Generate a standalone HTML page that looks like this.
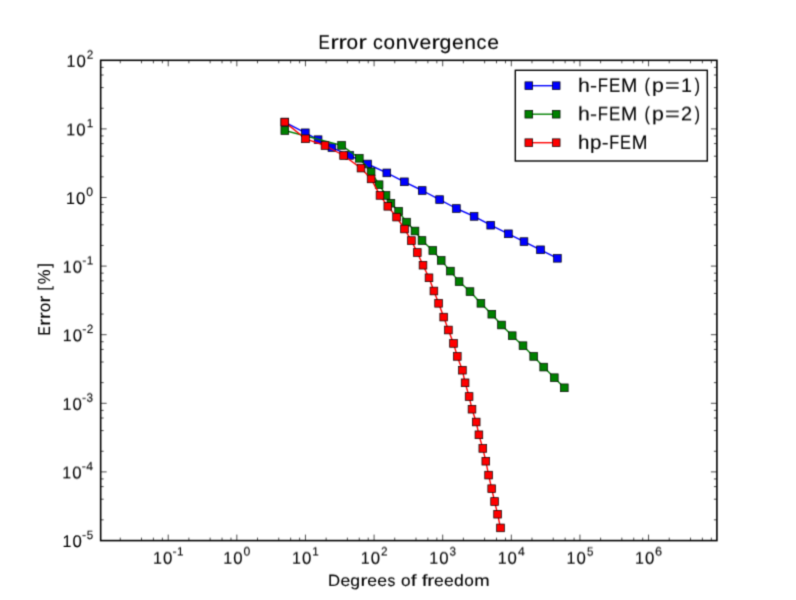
<!DOCTYPE html><html><head><meta charset="utf-8"><title>Error convergence</title><style>html,body{margin:0;padding:0;background:#fff;overflow:hidden;}svg{display:block;}text{font-family:"Liberation Sans",sans-serif;fill:#000;text-rendering:geometricPrecision;stroke:#000;stroke-width:0.12;}</style></head><body>
<svg width="796" height="600" viewBox="0 0 796 600">
<defs><filter id="bl" x="0" y="0" width="796" height="600" filterUnits="userSpaceOnUse" color-interpolation-filters="sRGB"><feConvolveMatrix order="3" kernelMatrix="1 4 1 4 16 4 1 4 1" edgeMode="duplicate"/></filter></defs>
<g filter="url(#bl)">
<rect x="0" y="0" width="796" height="600" fill="#fff"/>
<path d="M120.26 540.60V537.60M120.26 60.30V63.30M141.51 540.60V537.60M141.51 60.30V63.30M153.40 540.60V537.60M153.40 60.30V63.30M162.37 540.60V537.60M162.37 60.30V63.30M168.22 540.60V534.60M168.22 60.30V66.30M188.88 540.60V537.60M188.88 60.30V63.30M210.13 540.60V537.60M210.13 60.30V63.30M222.02 540.60V537.60M222.02 60.30V63.30M230.99 540.60V537.60M230.99 60.30V63.30M236.84 540.60V534.60M236.84 60.30V66.30M257.50 540.60V537.60M257.50 60.30V63.30M278.75 540.60V537.60M278.75 60.30V63.30M290.64 540.60V537.60M290.64 60.30V63.30M299.61 540.60V537.60M299.61 60.30V63.30M305.46 540.60V534.60M305.46 60.30V66.30M326.12 540.60V537.60M326.12 60.30V63.30M347.37 540.60V537.60M347.37 60.30V63.30M359.26 540.60V537.60M359.26 60.30V63.30M368.23 540.60V537.60M368.23 60.30V63.30M374.08 540.60V534.60M374.08 60.30V66.30M394.74 540.60V537.60M394.74 60.30V63.30M415.99 540.60V537.60M415.99 60.30V63.30M427.88 540.60V537.60M427.88 60.30V63.30M436.85 540.60V537.60M436.85 60.30V63.30M442.70 540.60V534.60M442.70 60.30V66.30M463.36 540.60V537.60M463.36 60.30V63.30M484.61 540.60V537.60M484.61 60.30V63.30M496.50 540.60V537.60M496.50 60.30V63.30M505.47 540.60V537.60M505.47 60.30V63.30M511.32 540.60V534.60M511.32 60.30V66.30M531.98 540.60V537.60M531.98 60.30V63.30M553.23 540.60V537.60M553.23 60.30V63.30M565.12 540.60V537.60M565.12 60.30V63.30M574.09 540.60V537.60M574.09 60.30V63.30M579.94 540.60V534.60M579.94 60.30V66.30M600.60 540.60V537.60M600.60 60.30V63.30M621.85 540.60V537.60M621.85 60.30V63.30M633.74 540.60V537.60M633.74 60.30V63.30M642.71 540.60V537.60M642.71 60.30V63.30M648.56 540.60V534.60M648.56 60.30V66.30M669.22 540.60V537.60M669.22 60.30V63.30M690.47 540.60V537.60M690.47 60.30V63.30M702.36 540.60V537.60M702.36 60.30V63.30M711.33 540.60V537.60M711.33 60.30V63.30M100.66 519.85H103.66M716.90 519.85H713.90M100.66 499.20H103.66M716.90 499.20H713.90M100.66 486.62H103.66M716.90 486.62H713.90M100.66 478.95H103.66M716.90 478.95H713.90M100.66 471.90H106.66M716.90 471.90H710.90M100.66 451.25H103.66M716.90 451.25H713.90M100.66 430.60H103.66M716.90 430.60H713.90M100.66 418.02H103.66M716.90 418.02H713.90M100.66 410.35H103.66M716.90 410.35H713.90M100.66 403.30H106.66M716.90 403.30H710.90M100.66 382.65H103.66M716.90 382.65H713.90M100.66 362.00H103.66M716.90 362.00H713.90M100.66 349.42H103.66M716.90 349.42H713.90M100.66 341.75H103.66M716.90 341.75H713.90M100.66 334.70H106.66M716.90 334.70H710.90M100.66 314.05H103.66M716.90 314.05H713.90M100.66 293.40H103.66M716.90 293.40H713.90M100.66 280.82H103.66M716.90 280.82H713.90M100.66 273.15H103.66M716.90 273.15H713.90M100.66 266.10H106.66M716.90 266.10H710.90M100.66 245.45H103.66M716.90 245.45H713.90M100.66 224.80H103.66M716.90 224.80H713.90M100.66 212.22H103.66M716.90 212.22H713.90M100.66 204.55H103.66M716.90 204.55H713.90M100.66 197.50H106.66M716.90 197.50H710.90M100.66 176.85H103.66M716.90 176.85H713.90M100.66 156.20H103.66M716.90 156.20H713.90M100.66 143.62H103.66M716.90 143.62H713.90M100.66 135.95H103.66M716.90 135.95H713.90M100.66 128.90H106.66M716.90 128.90H710.90M100.66 108.25H103.66M716.90 108.25H713.90M100.66 87.60H103.66M716.90 87.60H713.90M100.66 75.02H103.66M716.90 75.02H713.90M100.66 67.35H103.66M716.90 67.35H713.90" stroke="#000" stroke-width="0.7" fill="none"/>
<path d="M284.80 122.10L305.30 132.80L318.10 139.70L331.90 147.60L349.60 155.40L367.50 164.00L386.80 172.90L404.40 181.80L422.20 190.50L439.60 199.60L456.40 208.50L474.10 216.40L490.70 225.20L508.40 233.80L524.00 241.60L540.50 249.80L557.40 258.30" stroke="#0000ff" stroke-width="1.4" fill="none" stroke-linejoin="round" stroke-linecap="butt"/>
<rect x="280.95" y="118.25" width="7.7" height="7.7" fill="#0000ff" stroke="#000" stroke-width="0.7"/>
<rect x="301.45" y="128.95" width="7.7" height="7.7" fill="#0000ff" stroke="#000" stroke-width="0.7"/>
<rect x="314.25" y="135.85" width="7.7" height="7.7" fill="#0000ff" stroke="#000" stroke-width="0.7"/>
<rect x="328.05" y="143.75" width="7.7" height="7.7" fill="#0000ff" stroke="#000" stroke-width="0.7"/>
<rect x="345.75" y="151.55" width="7.7" height="7.7" fill="#0000ff" stroke="#000" stroke-width="0.7"/>
<rect x="363.65" y="160.15" width="7.7" height="7.7" fill="#0000ff" stroke="#000" stroke-width="0.7"/>
<rect x="382.95" y="169.05" width="7.7" height="7.7" fill="#0000ff" stroke="#000" stroke-width="0.7"/>
<rect x="400.55" y="177.95" width="7.7" height="7.7" fill="#0000ff" stroke="#000" stroke-width="0.7"/>
<rect x="418.35" y="186.65" width="7.7" height="7.7" fill="#0000ff" stroke="#000" stroke-width="0.7"/>
<rect x="435.75" y="195.75" width="7.7" height="7.7" fill="#0000ff" stroke="#000" stroke-width="0.7"/>
<rect x="452.55" y="204.65" width="7.7" height="7.7" fill="#0000ff" stroke="#000" stroke-width="0.7"/>
<rect x="470.25" y="212.55" width="7.7" height="7.7" fill="#0000ff" stroke="#000" stroke-width="0.7"/>
<rect x="486.85" y="221.35" width="7.7" height="7.7" fill="#0000ff" stroke="#000" stroke-width="0.7"/>
<rect x="504.55" y="229.95" width="7.7" height="7.7" fill="#0000ff" stroke="#000" stroke-width="0.7"/>
<rect x="520.15" y="237.75" width="7.7" height="7.7" fill="#0000ff" stroke="#000" stroke-width="0.7"/>
<rect x="536.65" y="245.95" width="7.7" height="7.7" fill="#0000ff" stroke="#000" stroke-width="0.7"/>
<rect x="553.55" y="254.45" width="7.7" height="7.7" fill="#0000ff" stroke="#000" stroke-width="0.7"/>
<path d="M284.80 130.50L341.60 145.40L359.30 158.30L371.10 171.80L379.10 184.70L386.00 195.40L390.90 203.20L398.60 211.30L406.50 222.10L415.00 231.00L422.00 240.50L432.80 250.50L441.20 260.40L450.40 271.10L459.10 281.60L470.00 291.60L480.90 303.30L491.80 314.20L501.50 325.00L512.20 335.70L523.00 345.70L533.70 356.40L543.70 367.10L554.30 377.70L564.30 387.80" stroke="#008000" stroke-width="1.4" fill="none" stroke-linejoin="round" stroke-linecap="butt"/>
<rect x="280.95" y="126.65" width="7.7" height="7.7" fill="#008000" stroke="#000" stroke-width="0.7"/>
<rect x="337.75" y="141.55" width="7.7" height="7.7" fill="#008000" stroke="#000" stroke-width="0.7"/>
<rect x="355.45" y="154.45" width="7.7" height="7.7" fill="#008000" stroke="#000" stroke-width="0.7"/>
<rect x="367.25" y="167.95" width="7.7" height="7.7" fill="#008000" stroke="#000" stroke-width="0.7"/>
<rect x="375.25" y="180.85" width="7.7" height="7.7" fill="#008000" stroke="#000" stroke-width="0.7"/>
<rect x="382.15" y="191.55" width="7.7" height="7.7" fill="#008000" stroke="#000" stroke-width="0.7"/>
<rect x="387.05" y="199.35" width="7.7" height="7.7" fill="#008000" stroke="#000" stroke-width="0.7"/>
<rect x="394.75" y="207.45" width="7.7" height="7.7" fill="#008000" stroke="#000" stroke-width="0.7"/>
<rect x="402.65" y="218.25" width="7.7" height="7.7" fill="#008000" stroke="#000" stroke-width="0.7"/>
<rect x="411.15" y="227.15" width="7.7" height="7.7" fill="#008000" stroke="#000" stroke-width="0.7"/>
<rect x="418.15" y="236.65" width="7.7" height="7.7" fill="#008000" stroke="#000" stroke-width="0.7"/>
<rect x="428.95" y="246.65" width="7.7" height="7.7" fill="#008000" stroke="#000" stroke-width="0.7"/>
<rect x="437.35" y="256.55" width="7.7" height="7.7" fill="#008000" stroke="#000" stroke-width="0.7"/>
<rect x="446.55" y="267.25" width="7.7" height="7.7" fill="#008000" stroke="#000" stroke-width="0.7"/>
<rect x="455.25" y="277.75" width="7.7" height="7.7" fill="#008000" stroke="#000" stroke-width="0.7"/>
<rect x="466.15" y="287.75" width="7.7" height="7.7" fill="#008000" stroke="#000" stroke-width="0.7"/>
<rect x="477.05" y="299.45" width="7.7" height="7.7" fill="#008000" stroke="#000" stroke-width="0.7"/>
<rect x="487.95" y="310.35" width="7.7" height="7.7" fill="#008000" stroke="#000" stroke-width="0.7"/>
<rect x="497.65" y="321.15" width="7.7" height="7.7" fill="#008000" stroke="#000" stroke-width="0.7"/>
<rect x="508.35" y="331.85" width="7.7" height="7.7" fill="#008000" stroke="#000" stroke-width="0.7"/>
<rect x="519.15" y="341.85" width="7.7" height="7.7" fill="#008000" stroke="#000" stroke-width="0.7"/>
<rect x="529.85" y="352.55" width="7.7" height="7.7" fill="#008000" stroke="#000" stroke-width="0.7"/>
<rect x="539.85" y="363.25" width="7.7" height="7.7" fill="#008000" stroke="#000" stroke-width="0.7"/>
<rect x="550.45" y="373.85" width="7.7" height="7.7" fill="#008000" stroke="#000" stroke-width="0.7"/>
<rect x="560.45" y="383.95" width="7.7" height="7.7" fill="#008000" stroke="#000" stroke-width="0.7"/>
<path d="M284.80 122.10L305.50 138.80L325.00 145.50L343.60 155.50L361.00 168.10L371.10 178.90L380.00 195.40L387.80 206.30L396.60 217.10L404.50 229.00L411.40 240.60L417.30 252.50L423.00 265.20L429.00 277.80L433.90 291.00L438.60 303.30L443.70 317.10L448.40 330.00L453.50 343.40L457.30 356.40L462.40 370.20L465.10 382.80L469.10 396.50L472.00 409.20L476.20 422.00L478.90 434.80L482.80 448.40L485.80 461.20L488.60 475.10L491.70 488.70L494.60 501.50L497.60 514.20L500.50 527.90" stroke="#ff0000" stroke-width="1.4" fill="none" stroke-linejoin="round" stroke-linecap="butt"/>
<rect x="280.95" y="118.25" width="7.7" height="7.7" fill="#ff0000" stroke="#000" stroke-width="0.7"/>
<rect x="301.65" y="134.95" width="7.7" height="7.7" fill="#ff0000" stroke="#000" stroke-width="0.7"/>
<rect x="321.15" y="141.65" width="7.7" height="7.7" fill="#ff0000" stroke="#000" stroke-width="0.7"/>
<rect x="339.75" y="151.65" width="7.7" height="7.7" fill="#ff0000" stroke="#000" stroke-width="0.7"/>
<rect x="357.15" y="164.25" width="7.7" height="7.7" fill="#ff0000" stroke="#000" stroke-width="0.7"/>
<rect x="367.25" y="175.05" width="7.7" height="7.7" fill="#ff0000" stroke="#000" stroke-width="0.7"/>
<rect x="376.15" y="191.55" width="7.7" height="7.7" fill="#ff0000" stroke="#000" stroke-width="0.7"/>
<rect x="383.95" y="202.45" width="7.7" height="7.7" fill="#ff0000" stroke="#000" stroke-width="0.7"/>
<rect x="392.75" y="213.25" width="7.7" height="7.7" fill="#ff0000" stroke="#000" stroke-width="0.7"/>
<rect x="400.65" y="225.15" width="7.7" height="7.7" fill="#ff0000" stroke="#000" stroke-width="0.7"/>
<rect x="407.55" y="236.75" width="7.7" height="7.7" fill="#ff0000" stroke="#000" stroke-width="0.7"/>
<rect x="413.45" y="248.65" width="7.7" height="7.7" fill="#ff0000" stroke="#000" stroke-width="0.7"/>
<rect x="419.15" y="261.35" width="7.7" height="7.7" fill="#ff0000" stroke="#000" stroke-width="0.7"/>
<rect x="425.15" y="273.95" width="7.7" height="7.7" fill="#ff0000" stroke="#000" stroke-width="0.7"/>
<rect x="430.05" y="287.15" width="7.7" height="7.7" fill="#ff0000" stroke="#000" stroke-width="0.7"/>
<rect x="434.75" y="299.45" width="7.7" height="7.7" fill="#ff0000" stroke="#000" stroke-width="0.7"/>
<rect x="439.85" y="313.25" width="7.7" height="7.7" fill="#ff0000" stroke="#000" stroke-width="0.7"/>
<rect x="444.55" y="326.15" width="7.7" height="7.7" fill="#ff0000" stroke="#000" stroke-width="0.7"/>
<rect x="449.65" y="339.55" width="7.7" height="7.7" fill="#ff0000" stroke="#000" stroke-width="0.7"/>
<rect x="453.45" y="352.55" width="7.7" height="7.7" fill="#ff0000" stroke="#000" stroke-width="0.7"/>
<rect x="458.55" y="366.35" width="7.7" height="7.7" fill="#ff0000" stroke="#000" stroke-width="0.7"/>
<rect x="461.25" y="378.95" width="7.7" height="7.7" fill="#ff0000" stroke="#000" stroke-width="0.7"/>
<rect x="465.25" y="392.65" width="7.7" height="7.7" fill="#ff0000" stroke="#000" stroke-width="0.7"/>
<rect x="468.15" y="405.35" width="7.7" height="7.7" fill="#ff0000" stroke="#000" stroke-width="0.7"/>
<rect x="472.35" y="418.15" width="7.7" height="7.7" fill="#ff0000" stroke="#000" stroke-width="0.7"/>
<rect x="475.05" y="430.95" width="7.7" height="7.7" fill="#ff0000" stroke="#000" stroke-width="0.7"/>
<rect x="478.95" y="444.55" width="7.7" height="7.7" fill="#ff0000" stroke="#000" stroke-width="0.7"/>
<rect x="481.95" y="457.35" width="7.7" height="7.7" fill="#ff0000" stroke="#000" stroke-width="0.7"/>
<rect x="484.75" y="471.25" width="7.7" height="7.7" fill="#ff0000" stroke="#000" stroke-width="0.7"/>
<rect x="487.85" y="484.85" width="7.7" height="7.7" fill="#ff0000" stroke="#000" stroke-width="0.7"/>
<rect x="490.75" y="497.65" width="7.7" height="7.7" fill="#ff0000" stroke="#000" stroke-width="0.7"/>
<rect x="493.75" y="510.35" width="7.7" height="7.7" fill="#ff0000" stroke="#000" stroke-width="0.7"/>
<rect x="496.65" y="524.05" width="7.7" height="7.7" fill="#ff0000" stroke="#000" stroke-width="0.7"/>
<rect x="100.66" y="60.3" width="616.24" height="480.30" fill="none" stroke="#000" stroke-width="1.6"/>
<rect x="515.3" y="70.3" width="192.00" height="90.70" fill="#fff" stroke="#000" stroke-width="1.4"/>
<path d="M528.8 85.70H556.2" stroke="#0000ff" stroke-width="1.4"/>
<rect x="524.95" y="81.85" width="7.7" height="7.7" fill="#0000ff" stroke="#000" stroke-width="0.7"/>
<rect x="552.35" y="81.85" width="7.7" height="7.7" fill="#0000ff" stroke="#000" stroke-width="0.7"/>
<path d="M528.8 114.20H556.2" stroke="#008000" stroke-width="1.4"/>
<rect x="524.95" y="110.35" width="7.7" height="7.7" fill="#008000" stroke="#000" stroke-width="0.7"/>
<rect x="552.35" y="110.35" width="7.7" height="7.7" fill="#008000" stroke="#000" stroke-width="0.7"/>
<path d="M528.8 142.70H556.2" stroke="#ff0000" stroke-width="1.4"/>
<rect x="524.95" y="138.85" width="7.7" height="7.7" fill="#ff0000" stroke="#000" stroke-width="0.7"/>
<rect x="552.35" y="138.85" width="7.7" height="7.7" fill="#ff0000" stroke="#000" stroke-width="0.7"/>






</g>
<defs><filter id="t1" x="0" y="0" width="796" height="600" filterUnits="userSpaceOnUse" color-interpolation-filters="sRGB"><feConvolveMatrix order="3 4" kernelMatrix="0.5000 2.0000 0.5000 2.5000 10.0000 2.5000 2.5000 10.0000 2.5000 0.5000 2.0000 0.5000" targetY="1" edgeMode="none"/></filter><filter id="t2" x="0" y="0" width="796" height="600" filterUnits="userSpaceOnUse" color-interpolation-filters="sRGB"><feConvolveMatrix order="3 4" kernelMatrix="0.4000 1.6000 0.4000 2.2000 8.8000 2.2000 2.8000 11.2000 2.8000 0.6000 2.4000 0.6000" targetY="1" edgeMode="none"/></filter><filter id="t3" x="0" y="0" width="796" height="600" filterUnits="userSpaceOnUse" color-interpolation-filters="sRGB"><feConvolveMatrix order="3 4" kernelMatrix="0.3000 1.2000 0.3000 1.9000 7.6000 1.9000 3.1000 12.4000 3.1000 0.7000 2.8000 0.7000" targetY="1" edgeMode="none"/></filter><filter id="t4" x="0" y="0" width="796" height="600" filterUnits="userSpaceOnUse" color-interpolation-filters="sRGB"><feConvolveMatrix order="3 4" kernelMatrix="0.2000 0.8000 0.2000 1.6000 6.4000 1.6000 3.4000 13.6000 3.4000 0.8000 3.2000 0.8000" targetY="1" edgeMode="none"/></filter><filter id="t5" x="0" y="0" width="796" height="600" filterUnits="userSpaceOnUse" color-interpolation-filters="sRGB"><feConvolveMatrix order="3 4" kernelMatrix="0.1000 0.4000 0.1000 1.3000 5.2000 1.3000 3.7000 14.8000 3.7000 0.9000 3.6000 0.9000" targetY="1" edgeMode="none"/></filter><filter id="t6" x="0" y="0" width="796" height="600" filterUnits="userSpaceOnUse" color-interpolation-filters="sRGB"><feConvolveMatrix order="3 4" kernelMatrix="1.0000 4.0000 1.0000 4.0000 16.0000 4.0000 1.0000 4.0000 1.0000 0.0000 0.0000 0.0000" targetY="2" edgeMode="none"/></filter><filter id="t7" x="0" y="0" width="796" height="600" filterUnits="userSpaceOnUse" color-interpolation-filters="sRGB"><feConvolveMatrix order="3 4" kernelMatrix="0.9000 3.6000 0.9000 3.7000 14.8000 3.7000 1.3000 5.2000 1.3000 0.1000 0.4000 0.1000" targetY="2" edgeMode="none"/></filter><filter id="t8" x="0" y="0" width="796" height="600" filterUnits="userSpaceOnUse" color-interpolation-filters="sRGB"><feConvolveMatrix order="3 4" kernelMatrix="0.8000 3.2000 0.8000 3.4000 13.6000 3.4000 1.6000 6.4000 1.6000 0.2000 0.8000 0.2000" targetY="2" edgeMode="none"/></filter><filter id="t9" x="0" y="0" width="796" height="600" filterUnits="userSpaceOnUse" color-interpolation-filters="sRGB"><feConvolveMatrix order="3 4" kernelMatrix="0.7000 2.8000 0.7000 3.1000 12.4000 3.1000 1.9000 7.6000 1.9000 0.3000 1.2000 0.3000" targetY="2" edgeMode="none"/></filter><filter id="t10" x="0" y="0" width="796" height="600" filterUnits="userSpaceOnUse" color-interpolation-filters="sRGB"><feConvolveMatrix order="3 4" kernelMatrix="0.6000 2.4000 0.6000 2.8000 11.2000 2.8000 2.2000 8.8000 2.2000 0.4000 1.6000 0.4000" targetY="2" edgeMode="none"/></filter><filter id="t11" x="0" y="0" width="796" height="600" filterUnits="userSpaceOnUse" color-interpolation-filters="sRGB"><feConvolveMatrix order="3 4" kernelMatrix="0.5000 2.0000 0.5000 2.5000 10.0000 2.5000 2.5000 10.0000 2.5000 0.5000 2.0000 0.5000" targetY="2" edgeMode="none"/></filter></defs>
<g filter="url(#t1)"><text x="172.47" y="556.00" font-size="12.06" transform="matrix(1.0392 0 0 1 -6.844 0)">-</text><text x="176.86" y="556.00" font-size="12.06" transform="matrix(0.9706 0 0 1 5.307 0)">1</text><text x="243.54" y="556.00" font-size="12.06" transform="matrix(1.0162 0 0 1 -4.004 0)">0</text><text x="312.25" y="556.00" font-size="12.06" transform="matrix(0.9706 0 0 1 9.290 0)">1</text><text x="380.83" y="556.00" font-size="12.06" transform="matrix(0.9795 0 0 1 7.865 0)">2</text><text x="449.50" y="556.00" font-size="12.06" transform="matrix(0.9759 0 0 1 10.894 0)">3</text><text x="517.96" y="556.00" font-size="12.06" transform="matrix(1.0163 0 0 1 -8.518 0)">4</text><text x="586.72" y="556.00" font-size="12.06" transform="matrix(0.9591 0 0 1 24.154 0)">5</text><text x="655.25" y="556.00" font-size="12.06" transform="matrix(1.0518 0 0 1 -34.092 0)">6</text></g>
<g filter="url(#t2)"><text x="62.41" y="273.00" font-size="16.86" transform="matrix(0.9506 0 0 1 3.324 0)">1</text><text x="72.63" y="273.00" font-size="16.86" transform="matrix(0.9953 0 0 1 0.360 0)">0</text></g>
<g filter="url(#t3)"><text x="82.07" y="402.00" font-size="12.06" transform="matrix(1.0392 0 0 1 -3.298 0)">-</text><text x="86.54" y="402.00" font-size="12.06" transform="matrix(0.9759 0 0 1 2.162 0)">3</text><text x="86.60" y="59.00" font-size="12.06" transform="matrix(0.9795 0 0 1 1.842 0)">2</text><text x="152.67" y="564.00" font-size="16.86" transform="matrix(0.9506 0 0 1 7.779 0)">1</text><text x="162.88" y="564.00" font-size="16.86" transform="matrix(0.9953 0 0 1 0.781 0)">0</text><text x="222.99" y="564.00" font-size="16.86" transform="matrix(0.9506 0 0 1 11.250 0)">1</text><text x="233.20" y="564.00" font-size="16.86" transform="matrix(0.9953 0 0 1 1.109 0)">0</text><text x="291.76" y="564.00" font-size="16.86" transform="matrix(0.9506 0 0 1 14.645 0)">1</text><text x="301.97" y="564.00" font-size="16.86" transform="matrix(0.9953 0 0 1 1.430 0)">0</text><text x="360.42" y="564.00" font-size="16.86" transform="matrix(0.9506 0 0 1 18.034 0)">1</text><text x="370.64" y="564.00" font-size="16.86" transform="matrix(0.9953 0 0 1 1.750 0)">0</text><text x="428.93" y="564.00" font-size="16.86" transform="matrix(0.9506 0 0 1 21.416 0)">1</text><text x="439.14" y="564.00" font-size="16.86" transform="matrix(0.9953 0 0 1 2.069 0)">0</text><text x="497.41" y="564.00" font-size="16.86" transform="matrix(0.9506 0 0 1 24.797 0)">1</text><text x="507.62" y="564.00" font-size="16.86" transform="matrix(0.9953 0 0 1 2.388 0)">0</text><text x="566.21" y="564.00" font-size="16.86" transform="matrix(0.9506 0 0 1 28.193 0)">1</text><text x="576.42" y="564.00" font-size="16.86" transform="matrix(0.9953 0 0 1 2.709 0)">0</text><text x="634.69" y="564.00" font-size="16.86" transform="matrix(0.9506 0 0 1 31.573 0)">1</text><text x="644.90" y="564.00" font-size="16.86" transform="matrix(0.9953 0 0 1 3.028 0)">0</text></g>
<g filter="url(#t4)"><text x="62.27" y="410.00" font-size="16.86" transform="matrix(0.9506 0 0 1 3.317 0)">1</text><text x="72.49" y="410.00" font-size="16.86" transform="matrix(0.9953 0 0 1 0.360 0)">0</text><text x="66.20" y="67.00" font-size="16.86" transform="matrix(0.9506 0 0 1 3.511 0)">1</text><text x="76.41" y="67.00" font-size="16.86" transform="matrix(0.9953 0 0 1 0.378 0)">0</text></g>
<g filter="url(#t5)"><text x="317.46" y="49.00" font-size="19.91" transform="matrix(0.8513 0 0 1 48.268 0)">E</text><text x="331.44" y="49.00" font-size="19.91" transform="matrix(1.2585 0 0 1 -86.649 0)">r</text><text x="339.48" y="49.00" font-size="19.91" transform="matrix(1.2585 0 0 1 -88.727 0)">r</text><text x="346.87" y="49.00" font-size="19.91" transform="matrix(1.0442 0 0 1 -15.567 0)">o</text><text x="359.48" y="49.00" font-size="19.91" transform="matrix(1.2585 0 0 1 -93.898 0)">r</text><text x="372.82" y="49.00" font-size="19.91" transform="matrix(0.9856 0 0 1 5.461 0)">c</text><text x="383.85" y="49.00" font-size="19.91" transform="matrix(1.0442 0 0 1 -17.201 0)">o</text><text x="396.07" y="49.00" font-size="19.91" transform="matrix(1.0590 0 0 1 -23.690 0)">n</text><text x="408.57" y="49.00" font-size="19.91" transform="matrix(1.0600 0 0 1 -24.818 0)">v</text><text x="419.85" y="49.00" font-size="19.91" transform="matrix(1.0609 0 0 1 -25.911 0)">e</text><text x="432.47" y="49.00" font-size="19.91" transform="matrix(1.2585 0 0 1 -112.761 0)">r</text><text x="439.96" y="49.00" font-size="19.91" transform="matrix(1.0675 0 0 1 -30.070 0)">g</text><text x="452.34" y="49.00" font-size="19.91" transform="matrix(1.0609 0 0 1 -27.890 0)">e</text><text x="464.56" y="49.00" font-size="19.91" transform="matrix(1.0590 0 0 1 -27.730 0)">n</text><text x="476.43" y="49.00" font-size="19.91" transform="matrix(0.9856 0 0 1 6.958 0)">c</text><text x="487.53" y="49.00" font-size="19.91" transform="matrix(1.0609 0 0 1 -30.033 0)">e</text><text x="328.19" y="586.00" font-size="16.21" transform="matrix(1.0353 0 0 1 -11.813 0)">D</text><text x="340.76" y="586.00" font-size="16.21" transform="matrix(1.0809 0 0 1 -27.919 0)">e</text><text x="350.76" y="586.00" font-size="16.21" transform="matrix(1.0876 0 0 1 -31.107 0)">g</text><text x="361.49" y="586.00" font-size="16.21" transform="matrix(1.2821 0 0 1 -102.860 0)">r</text><text x="367.70" y="586.00" font-size="16.21" transform="matrix(1.0809 0 0 1 -30.097 0)">e</text><text x="377.68" y="586.00" font-size="16.21" transform="matrix(1.0809 0 0 1 -30.904 0)">e</text><text x="387.42" y="586.00" font-size="16.21" transform="matrix(0.9592 0 0 1 15.960 0)">s</text><text x="401.20" y="586.00" font-size="16.21" transform="matrix(1.0638 0 0 1 -25.888 0)">o</text><text x="411.48" y="586.00" font-size="16.21" transform="matrix(1.3000 0 0 1 -124.159 0)">f</text><text x="422.35" y="586.00" font-size="16.21" transform="matrix(1.3000 0 0 1 -127.418 0)">f</text><text x="428.21" y="586.00" font-size="16.21" transform="matrix(1.2821 0 0 1 -121.685 0)">r</text><text x="434.42" y="586.00" font-size="16.21" transform="matrix(1.0809 0 0 1 -35.493 0)">e</text><text x="444.40" y="586.00" font-size="16.21" transform="matrix(1.0809 0 0 1 -36.299 0)">e</text><text x="454.40" y="586.00" font-size="16.21" transform="matrix(1.0876 0 0 1 -40.187 0)">d</text><text x="464.62" y="586.00" font-size="16.21" transform="matrix(1.0638 0 0 1 -29.935 0)">o</text><text x="475.27" y="586.00" font-size="16.21" transform="matrix(1.1402 0 0 1 -67.558 0)">m</text><text x="578.39" y="92.00" font-size="19.62" transform="matrix(1.0853 0 0 1 -49.790 0)">h</text><text x="590.32" y="92.00" font-size="19.62" transform="matrix(1.0776 0 0 1 -46.079 0)">-</text><text x="596.76" y="92.00" font-size="19.62" transform="matrix(0.8568 0 0 1 86.345 0)">F</text><text x="608.02" y="92.00" font-size="19.62" transform="matrix(0.8664 0 0 1 82.176 0)">E</text><text x="621.10" y="92.00" font-size="19.62" transform="matrix(0.9967 0 0 1 2.054 0)">M</text><text x="644.03" y="92.00" font-size="19.62" transform="matrix(0.8450 0 0 1 100.409 0)">(</text><text x="652.52" y="92.00" font-size="19.62" transform="matrix(1.0876 0 0 1 -57.640 0)">p</text><text x="666.56" y="92.00" font-size="19.62" transform="matrix(1.2880 0 0 1 -193.616 0)">=</text><text x="681.19" y="92.00" font-size="19.62" transform="matrix(1.0064 0 0 1 -4.429 0)">1</text><text x="694.04" y="92.00" font-size="19.62" transform="matrix(0.8450 0 0 1 107.988 0)">)</text><text x="578.24" y="149.00" font-size="19.62" transform="matrix(1.0496 0 0 1 -28.947 0)">h</text><text x="590.39" y="149.00" font-size="19.62" transform="matrix(1.0518 0 0 1 -30.883 0)">p</text><text x="601.90" y="149.00" font-size="19.62" transform="matrix(1.0422 0 0 1 -25.535 0)">-</text><text x="608.02" y="149.00" font-size="19.62" transform="matrix(0.8287 0 0 1 105.267 0)">F</text><text x="618.89" y="149.00" font-size="19.62" transform="matrix(0.8379 0 0 1 101.457 0)">E</text><text x="631.50" y="149.00" font-size="19.62" transform="matrix(0.9640 0 0 1 23.052 0)">M</text><text x="82.16" y="539.00" font-size="12.06" transform="matrix(1.0392 0 0 1 -3.301 0)">-</text><text x="86.56" y="539.00" font-size="12.06" transform="matrix(0.9591 0 0 1 3.680 0)">5</text><text x="86.37" y="196.00" font-size="12.06" transform="matrix(1.0162 0 0 1 -1.455 0)">0</text></g>
<g filter="url(#t6)"><g transform="rotate(-90)"><text x="-336.62" y="49.90" font-size="17.15" transform="matrix(0.8154 0 0 1 -61.037 0)">E</text><text x="-324.97" y="49.90" font-size="17.15" transform="matrix(1.2054 0 0 1 66.072 0)">r</text><text x="-318.34" y="49.90" font-size="17.15" transform="matrix(1.2054 0 0 1 64.709 0)">r</text><text x="-312.30" y="49.90" font-size="17.15">o</text><text x="-301.83" y="49.90" font-size="17.15" transform="matrix(1.2054 0 0 1 61.319 0)">r</text><text x="-290.71" y="49.90" font-size="17.15" transform="matrix(0.9801 0 0 1 -5.730 0)">[</text><text x="-284.50" y="49.90" font-size="17.15" transform="matrix(0.9661 0 0 1 -9.395 0)">%</text><text x="-267.81" y="49.90" font-size="17.15" transform="matrix(0.9801 0 0 1 -5.296 0)">]</text></g><text x="62.36" y="547.00" font-size="16.86" transform="matrix(0.9506 0 0 1 3.321 0)">1</text><text x="72.57" y="547.00" font-size="16.86" transform="matrix(0.9953 0 0 1 0.360 0)">0</text><text x="65.81" y="204.00" font-size="16.86" transform="matrix(0.9506 0 0 1 3.491 0)">1</text><text x="76.02" y="204.00" font-size="16.86" transform="matrix(0.9953 0 0 1 0.376 0)">0</text></g>
<g filter="url(#t7)"><text x="82.31" y="333.00" font-size="12.06" transform="matrix(1.0392 0 0 1 -3.307 0)">-</text><text x="86.60" y="333.00" font-size="12.06" transform="matrix(0.9795 0 0 1 1.842 0)">2</text></g>
<g filter="url(#t8)"><text x="62.50" y="341.00" font-size="16.86" transform="matrix(0.9506 0 0 1 3.328 0)">1</text><text x="72.72" y="341.00" font-size="16.86" transform="matrix(0.9953 0 0 1 0.361 0)">0</text></g>
<g filter="url(#t9)"><text x="81.80" y="470.00" font-size="12.06" transform="matrix(1.0392 0 0 1 -3.287 0)">-</text><text x="86.24" y="470.00" font-size="12.06" transform="matrix(1.0163 0 0 1 -1.463 0)">4</text><text x="86.61" y="127.00" font-size="12.06" transform="matrix(0.9706 0 0 1 2.652 0)">1</text></g>
<g filter="url(#t10)"><text x="578.39" y="120.00" font-size="19.62" transform="matrix(1.0853 0 0 1 -49.790 0)">h</text><text x="590.32" y="120.00" font-size="19.62" transform="matrix(1.0776 0 0 1 -46.079 0)">-</text><text x="596.76" y="120.00" font-size="19.62" transform="matrix(0.8568 0 0 1 86.345 0)">F</text><text x="608.02" y="120.00" font-size="19.62" transform="matrix(0.8664 0 0 1 82.176 0)">E</text><text x="621.10" y="120.00" font-size="19.62" transform="matrix(0.9967 0 0 1 2.054 0)">M</text><text x="644.03" y="120.00" font-size="19.62" transform="matrix(0.8450 0 0 1 100.409 0)">(</text><text x="652.52" y="120.00" font-size="19.62" transform="matrix(1.0876 0 0 1 -57.640 0)">p</text><text x="666.56" y="120.00" font-size="19.62" transform="matrix(1.2880 0 0 1 -193.616 0)">=</text><text x="681.02" y="120.00" font-size="19.62" transform="matrix(1.0157 0 0 1 -10.796 0)">2</text><text x="694.04" y="120.00" font-size="19.62" transform="matrix(0.8450 0 0 1 107.988 0)">)</text><text x="61.99" y="478.00" font-size="16.86" transform="matrix(0.9506 0 0 1 3.303 0)">1</text><text x="72.21" y="478.00" font-size="16.86" transform="matrix(0.9953 0 0 1 0.358 0)">0</text><text x="66.11" y="135.00" font-size="16.86" transform="matrix(0.9506 0 0 1 3.506 0)">1</text><text x="76.32" y="135.00" font-size="16.86" transform="matrix(0.9953 0 0 1 0.378 0)">0</text></g>
<g filter="url(#t11)"><text x="82.22" y="264.00" font-size="12.06" transform="matrix(1.0392 0 0 1 -3.304 0)">-</text><text x="86.61" y="264.00" font-size="12.06" transform="matrix(0.9706 0 0 1 2.652 0)">1</text></g>
</svg></body></html>
